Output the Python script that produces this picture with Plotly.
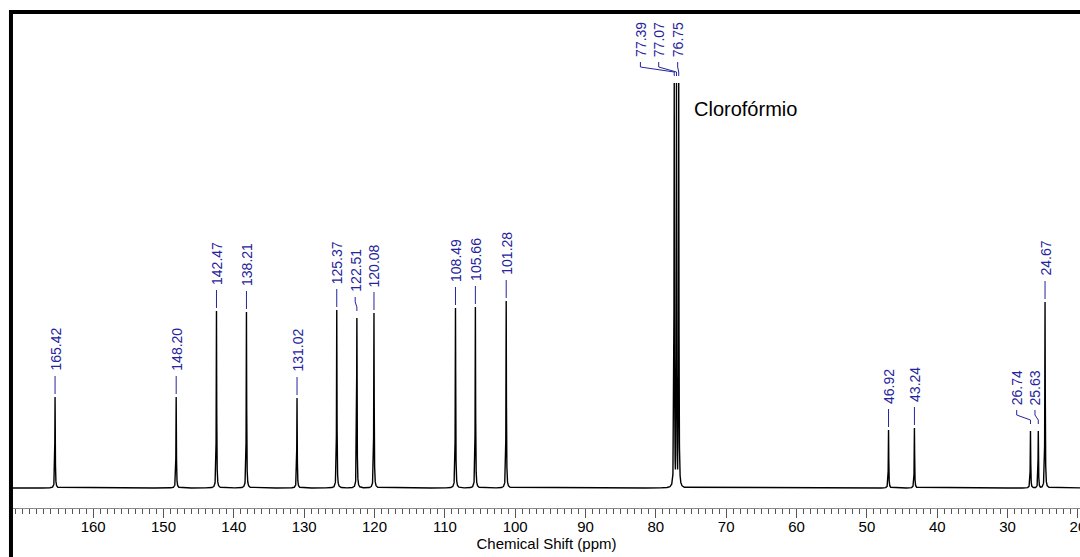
import numpy as np
import plotly.graph_objects as go

# 13C NMR peak list (ppm) and peak intensities (arbitrary units)
peak_ppm = [165.42, 148.20, 142.47, 138.21, 131.02, 125.37, 122.51, 120.08,
            108.49, 105.66, 101.28, 77.39, 77.07, 76.75, 46.92, 43.24,
            26.74, 25.63, 24.67]
peak_height = [91, 91, 177, 176, 90, 178, 170, 175,
               180, 181, 187, 405, 405, 405, 58, 60,
               57, 57, 186]
peak_label = ["165.42", "148.20", "142.47", "138.21", "131.02", "125.37", "122.51", "120.08",
              "108.49", "105.66", "101.28", "77.39", "77.07", "76.75", "46.92", "43.24",
              "26.74", "25.63", "24.67"]
tick_values = [160, 150, 140, 130, 120, 110, 100, 90, 80, 70, 60, 50, 40, 30, 20]
solvent_label = "Clorofórmio"
x_title = "Chemical Shift (ppm)"

# label placement for crowded multiplets (label ppm position, shared label level)
label_shift = {"77.39": 82.2, "77.07": 79.6, "76.75": 76.9,
               "26.74": 28.7, "25.63": 26.1, "122.51": 122.75}
label_level = {"77.39": 405, "77.07": 405, "76.75": 405,
               "26.74": 57, "25.63": 57}

X_MIN, X_MAX = 19.7, 171.4
LABEL_BLUE = "#24249c"
FONT = "Arial, Liberation Sans, sans-serif"

# Lorentzian line shapes built from the peak list
ppm = np.arange(X_MIN - 0.5, X_MAX + 0.5, 0.005)
spec = np.zeros_like(ppm)
hwhm = 0.035
for p, h in zip(peak_ppm, peak_height):
    spec = np.maximum(spec, h * hwhm**2 / ((ppm - p) ** 2 + hwhm**2))

fig = go.Figure()
fig.add_trace(go.Scatter(x=ppm, y=spec, mode="lines",
                         line=dict(color="black", width=1.4),
                         hoverinfo="skip", showlegend=False))

# peak labels with leader lines
lx_all, ly_all = [], []
annotations = []
for p, h, lab in zip(peak_ppm, peak_height, peak_label):
    lx = label_shift.get(lab, p)
    lvl = label_level.get(lab, h)
    base = lvl + 25
    if abs(lx - p) > 0.05:
        lx_all += [lx, lx, p, p, None]
        ly_all += [base - 4, base - 9, base - 14, max(h + 3, base - 18), None]
    else:
        lx_all += [p, p, None]
        ly_all += [base - 4, h + 3, None]
    annotations.append(dict(x=lx, y=base, xref="x", yref="y", text=lab,
                            textangle=-90, showarrow=False,
                            xanchor="center", yanchor="bottom",
                            font=dict(family=FONT, size=14, color=LABEL_BLUE),
                            borderpad=0))

fig.add_trace(go.Scatter(x=lx_all, y=ly_all, mode="lines",
                         line=dict(color=LABEL_BLUE, width=1),
                         hoverinfo="skip", showlegend=False))

annotations.append(dict(x=74.9, y=379, xref="x", yref="y", text=solvent_label,
                        showarrow=False, xanchor="left", yanchor="middle",
                        font=dict(family=FONT, size=20, color="black")))

fig.update_layout(
    width=1080, height=557,
    margin=dict(l=13, r=0, t=14, b=49, autoexpand=False),
    paper_bgcolor="white", plot_bgcolor="white",
    annotations=annotations,
    shapes=[dict(type="rect", xref="paper", yref="paper",
                 x0=-0.0019, x1=1.02, y0=-0.3, y1=1.004,
                 line=dict(color="black", width=4))],
    xaxis=dict(range=[X_MAX, X_MIN], showgrid=False, zeroline=False,
               automargin=False,
               showline=True, linecolor="#8a8a8a", linewidth=1,
               ticks="outside", ticklen=9, tickcolor="#555555", tickwidth=1,
               tickmode="array", tickvals=tick_values,
               ticktext=[str(v) for v in tick_values],
               ticklabeloverflow="allow", ticklabelstandoff=-4,
               minor=dict(tickmode="linear", tick0=0, dtick=1, ticklen=5,
                          tickcolor="#555555", ticks="outside"),
               tickfont=dict(family=FONT, size=15, color="black"),
               title=dict(text=x_title, standoff=4,
                          font=dict(family=FONT, size=15, color="black"))),
    yaxis=dict(range=[-20, 474], visible=False),
)

fig.write_html("out.html")
